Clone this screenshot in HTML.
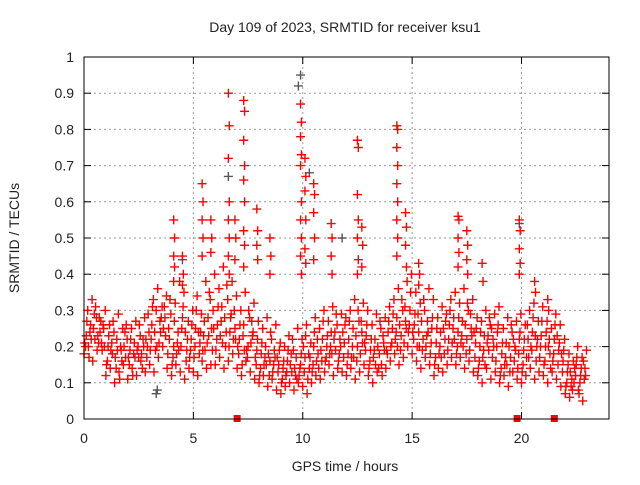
<!DOCTYPE html>
<html><head><meta charset="utf-8"><style>
body{margin:0;background:#fff}
svg text{font-family:"Liberation Sans",sans-serif;font-size:14px;fill:#222}
</style></head><body>
<svg id="chart" width="640" height="480" xmlns="http://www.w3.org/2000/svg">
<rect width="640" height="480" fill="#fff"/>
<text x="345" y="32" text-anchor="middle">Day 109 of 2023, SRMTID for receiver ksu1</text>
<text x="345" y="471" text-anchor="middle">GPS time / hours</text>
<text transform="translate(19,238) rotate(-90)" text-anchor="middle">SRMTID / TECUs</text>
<g id="grid"></g><g id="ticks"></g><g id="pts"></g>
<rect x="84" y="57" width="525" height="362" fill="none" stroke="#000" stroke-width="1"/>
</svg>
<script>
const xTicks=[0,5,10,15,20];
const yTicks=[0,0.1,0.2,0.3,0.4,0.5,0.6,0.7,0.8,0.9,1];
const yTickLabels=["0","0.1","0.2","0.3","0.4","0.5","0.6","0.7","0.8","0.9","1"];
const seriesLo=[.18,.2,.16,.19,.21,.12,.14,.1,.13,.15,.11,.14,.12,.16,.13,.15,.13,.17,.2,.14,.12,.15,.13,.11,.14,.13,.12,.16,.14,.15,.15,.17,.14,.16,.18,.14,.12,.16,.13,.11,.1,.12,.09,.11,.08,.07,.09,.1,.08,.1,.09,.07,.1,.12,.11,.13,.15,.12,.14,.13,.12,.14,.11,.13,.15,.12,.1,.13,.15,.14,.16,.18,.15,.17,.2,.18,.16,.14,.17,.15,.12,.14,.13,.15,.17,.15,.17,.14,.16,.13,.12,.1,.14,.11,.13,.1,.12,.09,.13,.11,.1,.12,.14,.11,.13,.12,.1,.13,.11,.09,.07,.06,.1,.08,.05];
const seriesMid=[.23,.26,.22,.28,.25,.2,.18,.22,.19,.17,.19,.21,.17,.22,.2,.26,.3,.24,.28,.22,.2,.24,.28,.19,.22,.25,.21,.27,.23,.3,.26,.31,.24,.28,.25,.22,.26,.2,.23,.19,.18,.2,.16,.19,.15,.14,.16,.13,.17,.15,.17,.14,.2,.18,.22,.2,.24,.19,.22,.21,.22,.25,.2,.24,.23,.19,.22,.18,.21,.24,.25,.28,.23,.27,.3,.26,.24,.22,.27,.25,.21,.24,.22,.26,.28,.24,.27,.22,.25,.21,.2,.23,.19,.22,.24,.18,.21,.17,.2,.22,.19,.22,.24,.2,.23,.2,.18,.22,.19,.16,.13,.11,.15,.12,.14];
const seriesHi=[.3,.33,.28,.27,.3,.26,.24,.29,.25,.22,.25,.27,.23,.28,.24,.33,.36,.31,.34,.29,.32,.38,.35,.27,.3,.34,.29,.38,.33,.4,.36,.42,.33,.38,.34,.3,.35,.28,.32,.27,.25,.28,.22,.26,.21,.2,.23,.19,.25,.22,.26,.21,.28,.25,.3,.27,.31,.26,.29,.28,.3,.33,.27,.32,.3,.26,.29,.25,.28,.31,.33,.36,.3,.38,.4,.35,.32,.3,.36,.33,.28,.31,.29,.33,.35,.32,.36,.3,.33,.28,.27,.3,.26,.29,.31,.25,.28,.24,.27,.29,.26,.3,.32,.27,.31,.27,.25,.29,.26,.22,.18,.16,.2,.17,.19];
const seriesMid2=[.2,.24,.29,.21,.26,.16,.21,.14,.2,.24,.15,.18,.2,.14,.17,.22,.19,.27,.31,.25,.17,.21,.25,.16,.19,.2,.18,.23,.28,.19,.22,.27,.2,.24,.3,.18,.23,.17,.27,.15,.14,.17,.12,.15,.13,.11,.13,.18,.12,.14,.13,.18,.15,.22,.16,.17,.2,.24,.18,.17,.18,.2,.16,.27,.19,.16,.19,.14,.23,.18,.21,.24,.19,.31,.26,.22,.29,.19,.23,.21,.17,.2,.18,.22,.25,.2,.23,.18,.29,.17,.16,.19,.23,.17,.2,.14,.17,.13,.16,.18,.15,.26,.19,.16,.2,.16,.22,.18,.15,.13,.1,.09,.12,.1,.11];
const seriesExtraA=[.21,.17,.25,.23,.19,.15,.19,.17,.11,.2,.17,.12,.19,.18,.22,.19,.24,.21,.25,.18,.15,.18,.2,.24,.17,.17,.24,.19,.21,.25,.19,.23,.28,.2,.22,.2,.15,.19,.21,.17,.12,.15,.18,.13,.17,.1,.12,.15,.14,.12,.2,.11,.13,.16,.19,.16,.18,.22,.16,.24,.15,.17,.23,.18,.21,.14,.17,.2,.12,.19,.2,.22,.26,.21,.24,.24,.2,.27,.2,.18,.15,.18,.25,.19,.21,.18,.21,.26,.19,.24,.14,.17,.21,.25,.16,.12,.15,.2,.22,.14,.13,.17,.2,.23,.17,.15,.2,.16,.23,.18,.09,.13,.14,.07,.16];
const seriesExtraB=[.27,.22,.31,.24,.2,.23,.27,.19,.16,.26,.22,.17,.26,.2,.29,.31,.2,.28,.23,.33,.27,.19,.31,.22,.26,.3,.24,.19,.35,.25,.31,.21,.37,.29,.22,.26,.19,.3,.24,.22,.21,.15,.24,.17,.19,.16,.19,.22,.11,.18,.23,.17,.24,.14,.27,.23,.18,.29,.2,.26,.27,.17,.3,.21,.26,.22,.15,.27,.19,.27,.29,.2,.33,.25,.35,.29,.2,.33,.24,.28,.25,.17,.27,.3,.22,.28,.2,.32,.23,.25,.24,.15,.28,.2,.26,.21,.15,.26,.19,.24,.22,.17,.28,.22,.27,.24,.14,.26,.21,.19,.15,.08,.17,.14,.12];
const spikeTimes=[4.1,4.5,5.4,5.8,6.6,6.9,7.3,7.9,8.5,9.9,10.1,10.5,11.3,12.5,12.7,14.3,14.7,15.3,17.1,17.5,18.2,19.9,20.6,21.2];
const spikeValues=[[.55,.5,.45,.42,.38],[.45,.4,.37],[.65,.6,.55,.5,.45],[.55,.5,.46],[.9,.81,.72,.6,.55,.5,.45,.4],[.55,.5,.44],[.88,.85,.77,.7,.66,.6,.52,.48,.42],[.58,.52,.48,.44],[.5,.45,.4],[.87,.82,.78,.73,.7,.6,.55,.5,.45,.4],[.72,.67,.63,.55,.47,.43],[.65,.62,.57,.5,.44],[.54,.5,.45,.4],[.77,.75,.62,.55,.5,.44,.4],[.53,.48,.42],[.81,.8,.75,.7,.65,.6,.55,.5,.45],[.57,.53,.48,.42],[.43,.4,.37],[.56,.55,.5,.46,.42],[.52,.48,.44,.4],[.43,.38],[.55,.52,.47,.43,.4],[.38,.35],[.33,.3]];
const greyTimes=[9.9,9.8,6.6,19.9,3.3,3.35,11.8,10.3,4.5];
const greyValues=[.95,.92,.67,.54,.07,.08,.5,.68,.44];
const gapTimes=[7.0,19.8,21.5];
const NS="http://www.w3.org/2000/svg";
const X=t=>84+t*(525/24), Y=v=>419-v*362;
function mk(tag,attrs,parent){const e=document.createElementNS(NS,tag);for(const k in attrs)e.setAttribute(k,attrs[k]);parent.appendChild(e);return e;}
const grid=document.getElementById('grid'),ticks=document.getElementById('ticks'),pts=document.getElementById('pts');
xTicks.forEach(t=>{const x=X(t);
 if(t>0){const g=mk('line',{x1:x,x2:x,y1:57,y2:419,stroke:'#999','stroke-dasharray':'2,3'},grid);
 
 }
 mk('line',{x1:x,x2:x,y1:419,y2:412,stroke:'#000'},ticks);mk('line',{x1:x,x2:x,y1:57,y2:64,stroke:'#000'},ticks);
 const l=mk('text',{x:x,y:443,'text-anchor':'middle'},ticks);l.textContent=t;
 
 });
yTicks.forEach((v,i)=>{const y=Y(v);
 if(i>0&&i<yTicks.length-1){const g=mk('line',{x1:84,x2:609,y1:y,y2:y,stroke:'#999','stroke-dasharray':'2,3'},grid);
 
 }
 mk('line',{x1:84,x2:91,y1:y,y2:y,stroke:'#000'},ticks);mk('line',{x1:609,x2:602,y1:y,y2:y,stroke:'#000'},ticks);
 const l=mk('text',{x:74,y:y+5,'text-anchor':'end'},ticks);l.textContent=yTickLabels[i];
 
 });
function plus(t,v,col){const x=X(t),y=Y(v);
 const p=mk('path',{d:`M${x-4.5},${y}h9M${x},${y-4.5}v9`,stroke:col,'stroke-width':1.4,fill:'none'},pts);
 
 }
greyTimes.forEach((t,i)=>plus(t,greyValues[i],'#555'));
[[seriesLo,0],[seriesExtraA,0.03],[seriesMid2,0.07],[seriesMid,0.1],[seriesExtraB,0.13],[seriesHi,0.17]].forEach(([arr,off])=>arr.forEach((v,i)=>plus(i*0.2+off,v,'#f00')));
spikeTimes.forEach((t,i)=>spikeValues[i].forEach((v,j)=>plus(t+(j%2)*0.04,v,'#f00')));
gapTimes.forEach(t=>{const r=mk('rect',{x:X(t)-3.5,y:415,width:7,height:7,fill:'#f00'},pts);
 
 });
</script>
</body></html>
